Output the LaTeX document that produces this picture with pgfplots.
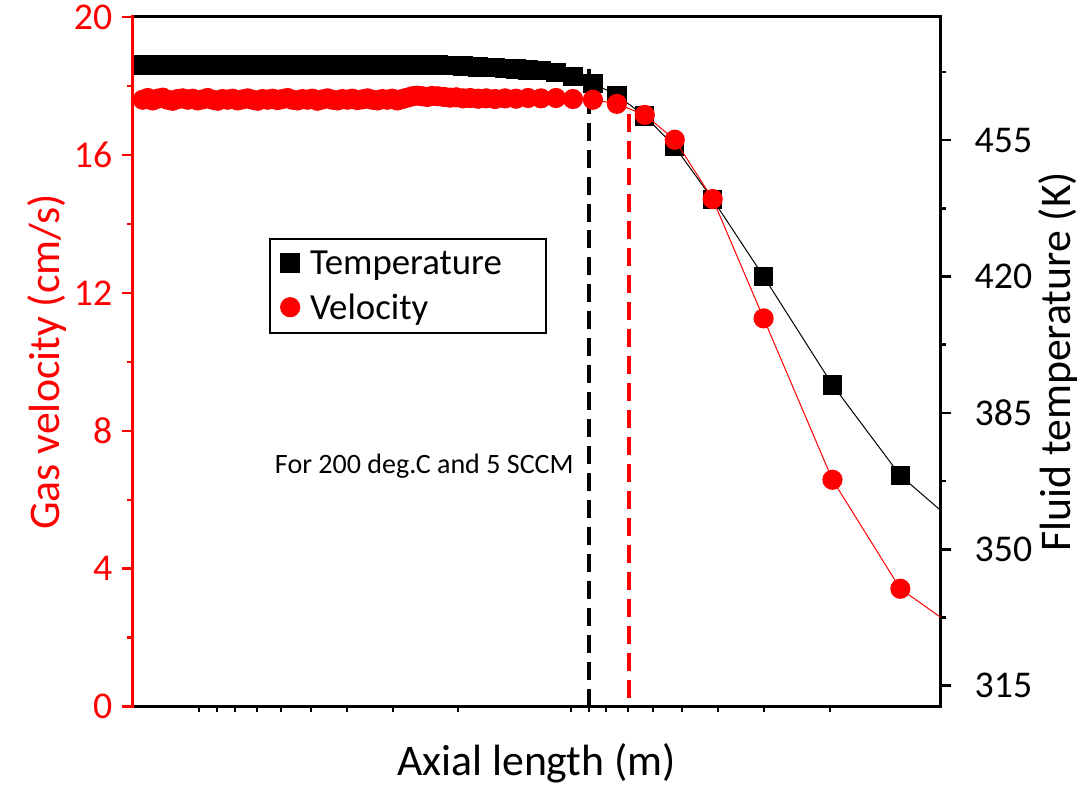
\documentclass[border=0pt]{standalone}
\usepackage{fontspec}
\setmainfont{Carlito}
\usepackage{pgfplots}
\usepackage{pgfplotstable}
\pgfplotsset{compat=1.18}

\newcommand\tickfont{\fontsize{38}{43}\selectfont}
\newcommand\labelfont{\fontsize{44}{49}\selectfont}
\newcommand\legfont{\fontsize{37}{42}\selectfont}
\newcommand\annfont{\fontsize{28.2}{33}\selectfont}

% x: axial position (arbitrary units), T: fluid temperature (K), v: gas velocity (cm/s)
\pgfplotstableread{
x    T      v
10   474.3  17.60
15   474.3  17.65
20   474.3  17.58
25   474.3  17.63
30   474.3  17.66
35   474.3  17.60
40   474.3  17.57
45   474.3  17.62
50   474.3  17.64
55   474.3  17.60
60   474.3  17.63
65   474.3  17.58
70   474.3  17.61
75   474.3  17.65
80   474.3  17.60
85   474.3  17.57
90   474.3  17.62
95   474.3  17.60
100  474.3  17.63
105  474.3  17.58
110  474.3  17.61
115  474.3  17.64
120  474.3  17.60
125  474.3  17.57
130  474.3  17.62
135  474.3  17.60
140  474.3  17.63
145  474.3  17.59
150  474.3  17.62
155  474.3  17.65
160  474.3  17.60
165  474.3  17.58
170  474.3  17.62
175  474.3  17.60
180  474.3  17.63
185  474.3  17.57
190  474.3  17.61
195  474.3  17.64
200  474.3  17.60
205  474.3  17.58
210  474.3  17.62
215  474.3  17.60
220  474.3  17.63
225  474.3  17.59
230  474.3  17.61
235  474.3  17.64
240  474.3  17.60
245  474.3  17.58
250  474.3  17.62
255  474.3  17.60
260  474.3  17.63
265  474.3  17.58
270  474.3  17.62
275  474.3  17.66
280  474.3  17.70
285  474.3  17.72
290  474.3  17.70
295  474.3  17.68
300  474.3  17.71
306  474.3  17.70
312  474.2  17.68
318  474.2  17.66
324  474.1  17.67
331  474.0  17.64
338  473.9  17.65
346  473.8  17.63
354  473.7  17.64
363  473.6  17.62
373  473.4  17.64
384  473.2  17.63
396  473.0  17.65
409  472.8  17.64
424  472.4  17.65
441  471.4  17.62
461  469.6  17.60
485  466.5  17.48
513  461.2  17.16
543  453.3  16.44
581  439.8  14.72
632  420.0  11.26
701  392.2  6.58
769  368.9  3.42
847  351.7  1.82
}\profiledata

\begin{document}
\begin{tikzpicture}
% right axis: fluid temperature
\begin{axis}[
  name=tax,
  scale only axis, width=809bp, height=691bp,
  xmin=0, xmax=809, ymin=309.6, ymax=486.6,
  axis y line*=right, axis x line*=top,
  xtick=\empty,
  ytick={315,350,385,420,455},
  minor ytick={332.5,367.5,402.5,437.5,472.5},
  tick align=outside,
  major tick length=11bp, minor tick length=6bp,
  ytick style={black, line width=2.5bp},
  axis line style={black, line width=3bp, -, line cap=rect},
  /pgf/number format/assume math mode=true,
  yticklabel style={font=\tickfont, black, xshift=20bp},
  ylabel={Fluid temperature (K)},
  ylabel style={font=\labelfont, black, at={(axis description cs:1.146,0.5)}, anchor=center},
  clip marker paths=true,
]
\addplot[black, line width=1bp, mark=square*, mark size=9.2bp,
  mark options={fill=black, draw=none}] table[x=x, y=T] {\profiledata};
% onset markers
\addplot[black, line width=3.5bp, dash pattern=on 18bp off 9bp] coordinates {(457,473.3) (457,309.6)};
\addplot[red, line width=3.5bp, dash pattern=on 18bp off 9bp] coordinates {(497,461.8) (497,309.6)};
\end{axis}

% left axis: gas velocity
\begin{axis}[
  scale only axis, width=809bp, height=691bp,
  xmin=0, xmax=809, ymin=0, ymax=20,
  axis y line*=left, axis x line*=bottom,
  xtick=\empty,
  extra x ticks={66,84,102,124,148.7,178.7,214.7,261,326,438.7,457,474.3,496,521.3,550.3,586,632.7,698.7},
  extra x tick labels={},
  extra x tick style={major tick length=5bp, tick style={black, line width=2bp}},
  ytick={0,4,8,12,16,20},
  minor ytick={2,6,10,14,18},
  tick align=outside,
  major tick length=11bp, minor tick length=6bp,
  ytick style={red, line width=2.5bp},
  x axis line style={black, line width=3bp, -, line cap=rect},
  y axis line style={red, line width=3bp, -, line cap=rect},
  /pgf/number format/assume math mode=true,
  yticklabel style={font=\tickfont, red, xshift=-6bp},
  ylabel={Gas velocity (cm/s)},
  ylabel style={font=\labelfont, red, at={(axis description cs:-0.1063,0.5)}, anchor=center},
  xlabel={Axial length (m)},
  xlabel style={font=\labelfont, black, at={(axis description cs:0.5,-0.0825)}, anchor=center},
  clip marker paths=true,
  legend style={at={(rel axis cs:0.169,0.680)}, anchor=north west, draw=black,
    line width=2bp, font=\legfont, inner xsep=4bp, inner ysep=10bp, row sep=14bp},
  legend cell align=left,
  legend image code/.code={\path (0bp,0bp) (32bp,0bp); \draw[#1] plot coordinates {(15bp,0bp)};},
]
\addlegendimage{black, mark=square*, mark size=9bp, mark options={fill=black, draw=none}}
\addlegendentry{Temperature\hspace*{38bp}}
\addplot[red, line width=1bp, mark=*, mark size=9.6bp,
  mark options={fill=red, draw=none}] table[x=x, y=v] {\profiledata};
\addlegendentry{Velocity}
\node[anchor=west, font=\annfont, black] at (rel axis cs:0.1718,0.3488) {For 200 deg.C and 5 SCCM};
\end{axis}
\path ([shift={(-133bp,-79bp)}]tax.south west) rectangle ([shift={(139bp,17bp)}]tax.north east);
\end{tikzpicture}
\end{document}
